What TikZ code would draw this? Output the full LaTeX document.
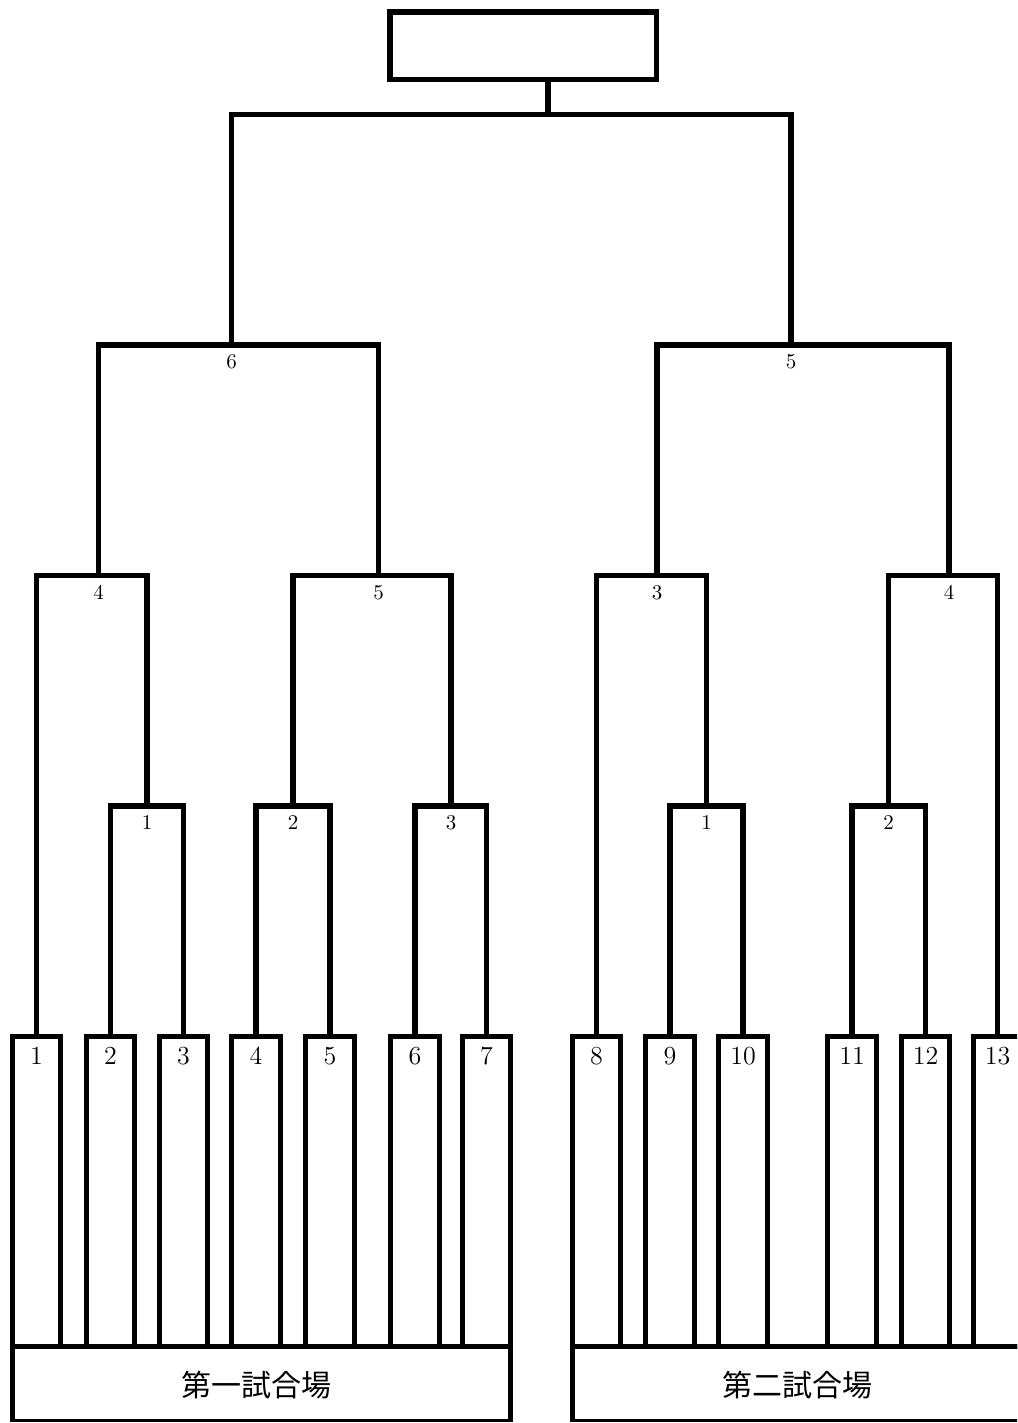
\documentclass[tikz,border=0pt]{standalone}
\usepackage{fontspec}
\newfontfamily\cjk{Noto Sans CJK JP}
\begin{document}
\begin{tikzpicture}[x=0.5pt,y=-0.5pt,
  thickline/.style={line width=2.6pt,line join=miter},
  entrant/.style={draw,line width=2.6pt,inner sep=0pt,outer sep=0pt,minimum width=24.25pt,minimum height=155pt},
  venue/.style={draw,line width=1.5pt,inner sep=0pt,outer sep=0pt,minimum height=37pt},
  topbox/.style={draw,line width=2.6pt,inner sep=0pt,outer sep=0pt,minimum width=133.25pt,minimum height=33.75pt},
  boxnum/.style={anchor=north,inner sep=0pt,font=\fontsize{13}{15}\selectfont},
  matchnum/.style={anchor=north,inner sep=0pt,font=\fontsize{10.5}{12}\selectfont},
  venuetext/.style={inner sep=0pt,font=\cjk\fontsize{15}{18}\selectfont}]
\path[use as bounding box,clip] (0,0) rectangle (1017,1423);

% venues
\node[venue,minimum width=249pt] (v1) at (261.5,1383.5) {};
\node[venue,minimum width=225pt] (v2) at (797.5,1383.5) {};
\node[venuetext] (v1t) at (256,1385) {第一試合場};
\node[venuetext] (v2t) at (797.5,1385) {第二試合場};

% entrants
\foreach \n/\cx in {1/36.5,2/110.5,3/183.5,4/256,5/330,6/415,7/486.5,
                    8/596.5,9/670,10/743,11/852,12/925.5,13/997.5}{
  \node[entrant] (e\n) at (\cx,1191.5) {};
  \node[boxnum] (n\n) at ([yshift=-5.25pt]e\n.north) {\n};
}

% thick venue outlines (top edge and sides)
\draw[thickline] ([yshift=-0.75pt]v1.south west) -- (v1.north west) -- (v1.north east) -- ([yshift=-0.75pt]v1.south east);
\draw[thickline] ([yshift=-0.75pt]v2.south west) -- (v2.north west) -- (v2.north east) -- ([yshift=-0.75pt]v2.south east);

% top box
\node[topbox] (top) at (523.25,45.75) {};

% match junctions
\coordinate (L1) at (147,806);
\coordinate (L2) at (293,806);
\coordinate (L3) at (451,806);
\coordinate (L4) at (98.5,575.5);
\coordinate (L5) at (378.5,575.5);
\coordinate (L6) at (231.5,345);
\coordinate (R1) at (706.5,806);
\coordinate (R2) at (888.5,806);
\coordinate (R3) at (657,575.5);
\coordinate (R4) at (949,575.5);
\coordinate (R5) at (791,345);
\coordinate (F) at (548,114.5);

% connectors
\draw[thickline] (e2.north) |- (L1) -| (e3.north);
\draw[thickline] (e4.north) |- (L2) -| (e5.north);
\draw[thickline] (e6.north) |- (L3) -| (e7.north);
\draw[thickline] (e1.north) |- (L4) -| (L1);
\draw[thickline] (L2) |- (L5) -| (L3);
\draw[thickline] (L4) |- (L6) -| (L5);
\draw[thickline] (e9.north) |- (R1) -| (e10.north);
\draw[thickline] (e11.north) |- (R2) -| (e12.north);
\draw[thickline] (e8.north) |- (R3) -| (R1);
\draw[thickline] (R2) |- (R4) -| (e13.north);
\draw[thickline] (R3) |- (R5) -| (R4);
\draw[thickline] (L6) |- (F) -| (R5);
\draw[thickline] (F) -- (F |- top.south);

% match labels
\foreach \m/\t in {L1/1,L2/2,L3/3,L4/4,L5/5,L6/6,R1/1,R2/2,R3/3,R4/4,R5/5}{
  \node[matchnum] (t\m) at ([yshift=-4.75pt]\m) {\t};
}
\end{tikzpicture}
\end{document}
